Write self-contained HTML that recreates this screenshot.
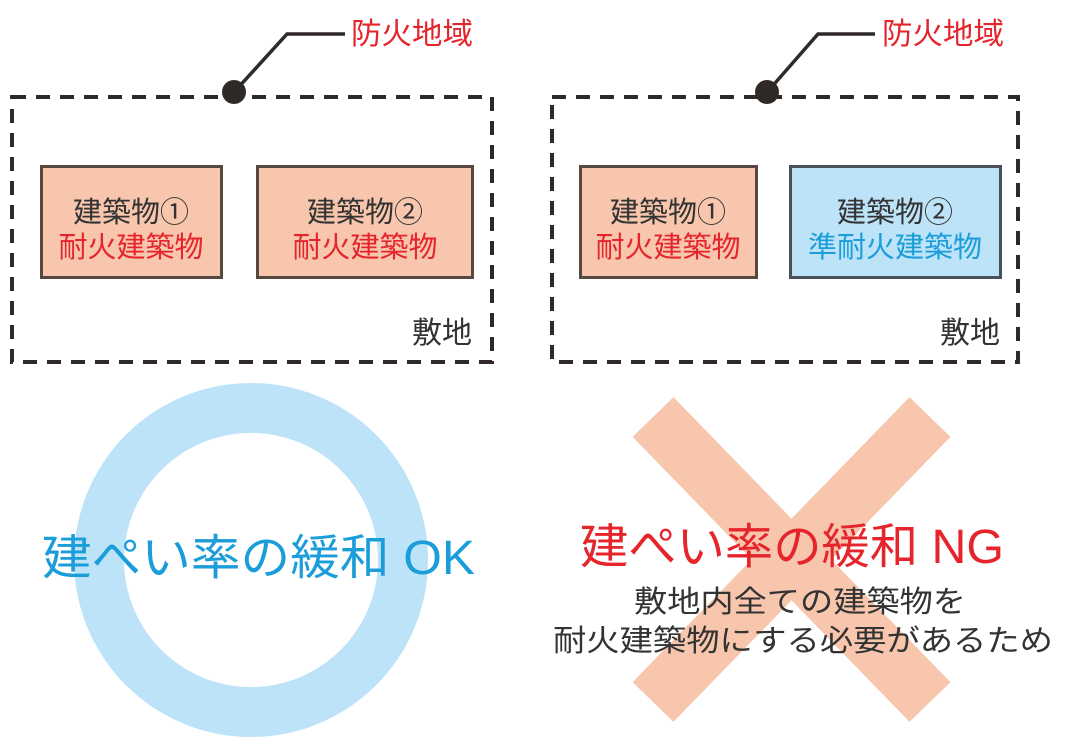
<!DOCTYPE html>
<html><head><meta charset="utf-8"><style>
html,body{margin:0;padding:0;background:#fff;width:1078px;height:743px;overflow:hidden}
svg{display:block}
text{font-family:"Liberation Sans","Noto Sans CJK JP",sans-serif}
</style></head><body>
<svg width="1078" height="743" viewBox="0 0 1078 743" xmlns="http://www.w3.org/2000/svg">
<!-- circle -->
<circle cx="251" cy="560" r="152" fill="none" stroke="#bde3f8" stroke-width="50"/>
<!-- X -->
<line x1="653" y1="417" x2="930" y2="702" stroke="#f7c6ad" stroke-width="57"/>
<line x1="930" y1="417" x2="653" y2="702" stroke="#f7c6ad" stroke-width="57"/>

<!-- left panel -->
<rect x="12" y="97" width="480" height="265" fill="none" stroke="#2f2a28" stroke-width="4" stroke-dasharray="14 10"/>
<polyline points="236,90 287,34 345,34" fill="none" stroke="#2f2a28" stroke-width="3.5"/>
<circle cx="234" cy="92" r="12" fill="#2f2a28"/>
<text x="351" y="44" font-size="30" fill="#e5242b" textLength="122" lengthAdjust="spacingAndGlyphs">防火地域</text>
<rect x="41.5" y="166.5" width="180" height="111" fill="#f7c6ad" stroke="#574840" stroke-width="3"/>
<rect x="257.5" y="166.5" width="215" height="111" fill="#f7c6ad" stroke="#574840" stroke-width="3"/>
<text x="131" y="222" font-size="29" fill="#333" text-anchor="middle">建築物①</text>
<text x="131" y="257" font-size="29" fill="#e5242b" text-anchor="middle">耐火建築物</text>
<text x="365" y="222" font-size="29" fill="#333" text-anchor="middle">建築物②</text>
<text x="365" y="257" font-size="29" fill="#e5242b" text-anchor="middle">耐火建築物</text>
<text x="412" y="343" font-size="30" fill="#333" textLength="60" lengthAdjust="spacingAndGlyphs">敷地</text>

<!-- right panel -->
<rect x="552" y="97" width="466" height="265" fill="none" stroke="#2f2a28" stroke-width="4" stroke-dasharray="14 10"/>
<polyline points="769,90 818,34 875,34" fill="none" stroke="#2f2a28" stroke-width="3.5"/>
<circle cx="767" cy="92" r="12" fill="#2f2a28"/>
<text x="882" y="44" font-size="30" fill="#e5242b" textLength="122" lengthAdjust="spacingAndGlyphs">防火地域</text>
<rect x="580.5" y="166.5" width="176" height="111" fill="#f7c6ad" stroke="#574840" stroke-width="3"/>
<rect x="790.5" y="166.5" width="210" height="111" fill="#bde3f8" stroke="#4a5058" stroke-width="3"/>
<text x="668" y="222" font-size="29" fill="#333" text-anchor="middle">建築物①</text>
<text x="668" y="257" font-size="29" fill="#e5242b" text-anchor="middle">耐火建築物</text>
<text x="895" y="222" font-size="29" fill="#333" text-anchor="middle">建築物②</text>
<text x="895" y="257" font-size="29" fill="#1a9dd9" text-anchor="middle">準耐火建築物</text>
<text x="940" y="343" font-size="30" fill="#333" textLength="60" lengthAdjust="spacingAndGlyphs">敷地</text>

<!-- big texts -->
<text x="42" y="574" font-size="48" fill="#1a9dd9" textLength="433" lengthAdjust="spacingAndGlyphs">建ぺい率の緩和 OK</text>
<text x="580" y="563" font-size="48" fill="#e5242b" textLength="424" lengthAdjust="spacingAndGlyphs">建ぺい率の緩和 NG</text>
<text x="634" y="612" font-size="30" fill="#333" textLength="332" lengthAdjust="spacingAndGlyphs">敷地内全ての建築物を</text>
<text x="553" y="651" font-size="30" fill="#333" textLength="500" lengthAdjust="spacingAndGlyphs">耐火建築物にする必要があるため</text>
</svg>
</body></html>
